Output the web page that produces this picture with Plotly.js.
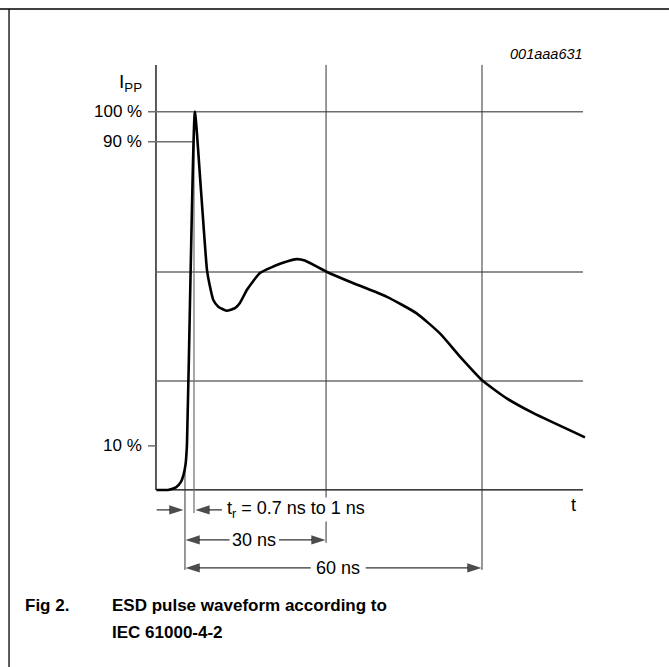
<!DOCTYPE html>
<html>
<head>
<meta charset="utf-8">
<script src="https://cdn.plot.ly/plotly-3.0.1.min.js"></script>
<style>
  html, body { margin: 0; padding: 0; background: #ffffff; }
  #chart { width: 669px; height: 667px; }
</style>
</head>
<body>
<div id="chart"></div>
<script>
// ---- data (time in ns from the rise reference, current in % of IPP) ----
const timeNs = [-5.72, -3.43, -1.82, -0.81, -0.30, 0.10, 0.40, 1.11, 2.0, 3.23, 4.44, 4.91, 5.72, 6.73, 8.42, 10.1, 11.1, 12.5, 15.2, 19.8, 22.6, 24.2, 28.6, 33.3, 40.7, 46.8, 51.5, 55.6, 60.1, 65.0, 70.4, 80.8];
const currentPct = [-1.86, -1.86, -1.18, 0.30, 2.18, 4.87, 10.26, 55.2, 100, 78.9, 57.4, 53.8, 49.3, 47.5, 46.4, 47.1, 48.5, 52.0, 56.6, 59.3, 60.3, 59.9, 56.9, 54.2, 50.2, 45.7, 40.3, 34.0, 27.6, 22.8, 18.8, 12.3];

const levelPct = [100, 91.9, 10];
const levelLabels = ["100 %", "90 %", "10 %"];
const gridPct = [56.8, 27.5];
const markerNs = [0, 1.82, 28.5, 60];     // rise start, peak, "30 ns", "60 ns"
const spanLabels = ["30 ns", "60 ns"];
const riseLabel = "t<sub>r</sub> = 0.7 ns to 1 ns";
const yLabel = "I<sub>PP</sub>";
const xLabel = "t";
const figCode = "001aaa631";
const captionNum = "Fig 2.";
const captionText = ["ESD pulse waveform according to", "IEC 61000-4-2"];

// ---- axis frame (in data units) ----
const X0 = -5.86, X1 = 80.4;       // axis left / right
const YB = -1.86, YT = 112.6;      // baseline / top of the axis
const TICKL = -7.47;               // left end of the level ticks
const FONT = "Liberation Sans, Arial, sans-serif";
const GREY = "#6e6e6e";

const shapes = [];
function seg(x0, y0, x1, y1, color, width, xref, yref) {
  shapes.push({type: "line", xref: xref || "x", yref: yref || "y", x0, y0, x1, y1,
               line: {color, width}, layer: "below"});
}
// page frame
seg(0, 0.9865, 1, 0.9865, "#000", 1.3, "paper", "paper");
seg(0.0135, 0, 0.0135, 0.9865, "#000", 1.3, "paper", "paper");
// axes
seg(X0, YB, X0, YT, "#000", 1.3);
seg(X0, YB, X1, YB, "#000", 1.3);
// level lines
seg(TICKL, levelPct[0], X1, levelPct[0], GREY, 1.5);
seg(TICKL, levelPct[1], markerNs[1], levelPct[1], GREY, 1.5);
seg(TICKL, levelPct[2], X0, levelPct[2], GREY, 1.5);
gridPct.forEach(g => seg(X0, g, X1, g, GREY, 1.5));
// vertical markers
seg(markerNs[0], 3.5, markerNs[0], -23.4, "#333", 1);
seg(markerNs[1], levelPct[0], markerNs[1], -8.05, GREY, 1.2);
seg(markerNs[2], YT, markerNs[2], -16.1, "#333", 1);
seg(markerNs[3], YT, markerNs[3], -23.4, "#333", 1);

const ann = [];
function txt(x, y, text, opts) {
  ann.push(Object.assign({x, y, xref: "x", yref: "y", text, showarrow: false,
    font: {family: FONT, size: 18, color: "#000"}}, opts || {}));
}
const traces = [];
// dimension arrows: a thin line with an arrow-shaped marker at its head
function arrow(xTail, xHead, y) {
  traces.push({x: [xTail, xHead], y: [y, y], type: "scatter", mode: "lines+markers",
    line: {color: "#000", width: 1},
    marker: {symbol: "arrow", size: [0, 15], angleref: "previous", color: "#000", line: {width: 0}},
    hoverinfo: "skip"});
}
const tickFont = {family: FONT, size: 17, color: "#000"};
// y labels
txt(-8.3, 107.6, yLabel, {xanchor: "right", font: {family: FONT, size: 19, color: "#000"}});
levelPct.forEach((v, i) => txt(-8.3, v, levelLabels[i], {xanchor: "right", font: tickFont}));
txt(78.4, -5.9, xLabel, {xanchor: "center"});
txt(80.9, 115.6, figCode, {xanchor: "right", font: {family: FONT, size: 14.5, color: "#000", style: "italic"}});
// rise time
arrow(-5.72, -0.3, -7.24);
arrow(7.47, 2.1, -7.24);
txt(8.2, -7.24, riseLabel, {xanchor: "left", bgcolor: "#fff", borderpad: 0});
// 30 ns span
arrow(9.0, 0.1, -15.32);
txt(14.0, -15.32, spanLabels[0], {xanchor: "center"});
arrow(19.0, markerNs[2] - 0.1, -15.32);
// 60 ns span
arrow(25.4, 0.1, -22.86);
txt(31.0, -22.86, spanLabels[1], {xanchor: "center"});
arrow(36.5, markerNs[3] - 0.1, -22.86);
// caption
const capFont = {family: FONT, size: 17, color: "#000", weight: "bold"};
ann.push({xref: "paper", yref: "paper", x: 23 / 669, y: 1 - 605 / 667, xanchor: "left", yanchor: "middle",
  text: captionNum, showarrow: false, font: capFont});
ann.push({xref: "paper", yref: "paper", x: 110 / 669, y: 1 - 605 / 667, xanchor: "left", yanchor: "middle",
  text: captionText[0], showarrow: false, font: capFont});
ann.push({xref: "paper", yref: "paper", x: 110 / 669, y: 1 - 632 / 667, xanchor: "left", yanchor: "middle",
  text: captionText[1], showarrow: false, font: capFont});

traces.push({x: timeNs, y: currentPct, type: "scatter", mode: "lines",
  line: {color: "#000", width: 2.6, shape: "spline", smoothing: 0.5}, hoverinfo: "skip"});

const layout = {
  width: 669, height: 667,
  margin: {l: 0, r: 0, t: 0, b: 0},
  paper_bgcolor: "#fff", plot_bgcolor: "#fff",
  showlegend: false,
  xaxis: {range: [-37.37, 97.78], visible: false, fixedrange: true},
  yaxis: {range: [-49.54, 130.07], visible: false, fixedrange: true},
  shapes, annotations: ann
};
Plotly.newPlot("chart", traces, layout, {displayModeBar: false, staticPlot: true});
</script>
</body>
</html>
